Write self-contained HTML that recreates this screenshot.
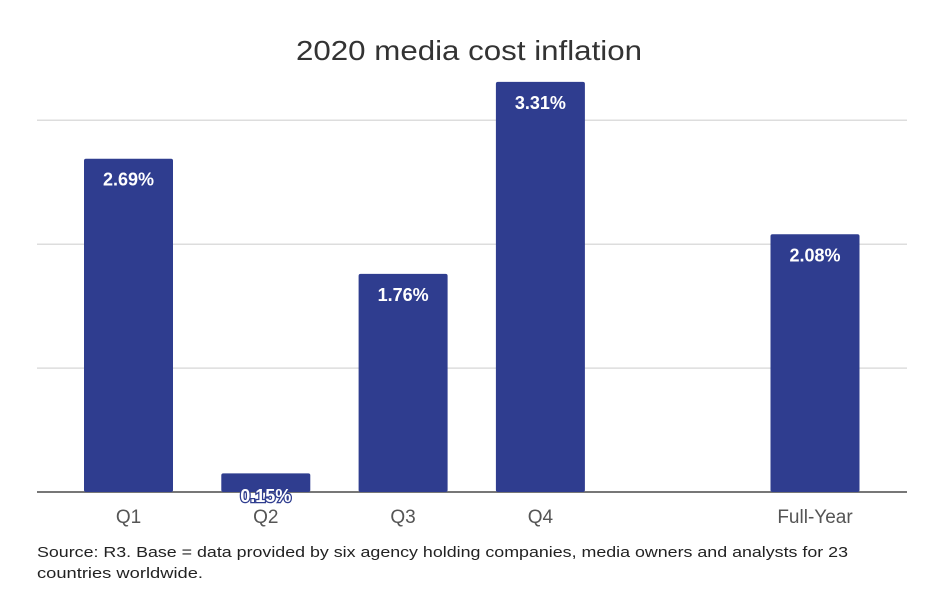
<!DOCTYPE html>
<html><head><meta charset="utf-8"><style>
html,body{margin:0;padding:0;background:#fff;width:942px;height:614px;overflow:hidden}
svg{display:block;font-family:"Liberation Sans",sans-serif}
</style></head><body>
<svg id="chart" width="942" height="614">
<text x="296" y="60" textLength="346" lengthAdjust="spacingAndGlyphs" font-size="28" fill="#333">2020 media cost inflation</text>
<g id="grid"></g><g id="bars"></g><g id="labels"></g>
<text x="37" y="557" textLength="811" lengthAdjust="spacingAndGlyphs" font-size="15" fill="#222">Source: R3. Base = data provided by six agency holding companies, media owners and analysts for 23</text>
<text x="37" y="578" textLength="166" lengthAdjust="spacingAndGlyphs" font-size="15" fill="#222">countries worldwide.</text>
</svg>
<script>
const categories = ["Q1","Q2","Q3","Q4","Full-Year"];
const slots = [0,1,2,3,5];
const values = [2.69,0.15,1.76,3.31,2.08];
const valueLabels = ["2.69%","0.15%","1.76%","3.31%","2.08%"];
const gridTicks = [1,2,3];
const NS="http://www.w3.org/2000/svg";
const base=492, perUnit=123.9, x0=128.5, step=137.3, bw=89;
const y=v=>base-v*perUnit, x=s=>x0+s*step;
function mk(t,a,p){const e=document.createElementNS(NS,t);for(const k in a)e.setAttribute(k,a[k]);p.appendChild(e);return e;}
const g=document.getElementById('grid'),b=document.getElementById('bars'),l=document.getElementById('labels');
gridTicks.forEach(t=>{const e=mk('line',{x1:37,x2:907,y1:y(t),y2:y(t),stroke:'#ddd','stroke-width':1.5},g);

});
values.forEach((v,i)=>{
 const cx=x(slots[i]);
 const r=mk('rect',{x:cx-bw/2,y:y(v),width:bw,height:base-y(v),fill:'#2f3d8f',rx:2},b);
 
 
 const low=v<0.5;
 const t=mk('text',{x:cx,y:low?base+10:y(v)+27,'text-anchor':'middle','font-size':18,'font-weight':'bold',fill:'#fff'},l);
 if(low){t.setAttribute('stroke','#2f3d8f');t.setAttribute('stroke-width','2.5');t.setAttribute('paint-order','stroke');}
 t.textContent=valueLabels[i];
 
 
 const c=mk('text',{x:cx,y:523,'text-anchor':'middle','font-size':19,fill:'#555'},l);
 c.textContent=categories[i];
 
 
});
const ax=mk('line',{x1:37,x2:907,y1:base,y2:base,stroke:'#777','stroke-width':2},g);


document.getElementById('chart').appendChild(l);
</script>
</body></html>
